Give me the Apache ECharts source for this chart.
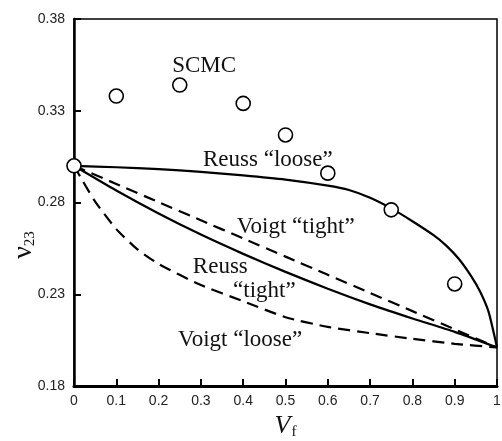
<!DOCTYPE html>
<html>
<head>
<meta charset="utf-8">
<script src="https://cdn.jsdelivr.net/npm/echarts@6/dist/echarts.min.js"></script>
<style>
  html, body { margin: 0; padding: 0; background: #fff; }
  #main { width: 502px; height: 441px; }
</style>
</head>
<body>
<div id="main"></div>
<script>
// 纤维体积分数 Vf 与泊松比 ν23
const vf = [0, 0.1, 0.2, 0.3, 0.4, 0.5, 0.6, 0.7, 0.8, 0.9, 1];
const reussLoose = [
  [0, 0.300], [0.1, 0.2992], [0.2, 0.2982], [0.3, 0.2967], [0.4, 0.2948],
  [0.5, 0.2925], [0.6, 0.2892], [0.65, 0.2868], [0.7, 0.2826], [0.75, 0.2768],
  [0.8, 0.2698], [0.85, 0.2622], [0.88, 0.2565], [0.91, 0.2492], [0.94, 0.2395],
  [0.96, 0.2315], [0.98, 0.2205], [1, 0.201]
];
const voigtTight = [0.300, 0.2901, 0.2802, 0.2703, 0.2604, 0.2505, 0.2406, 0.2307, 0.2208, 0.2109, 0.201];
const reussTight = [0.300, 0.2865, 0.274, 0.2625, 0.252, 0.2422, 0.233, 0.2245, 0.2168, 0.2095, 0.201];
const voigtLoose = [
  [0, 0.300], [0.02, 0.292], [0.05, 0.2805], [0.1, 0.2655], [0.15, 0.2545],
  [0.2, 0.2465], [0.3, 0.235], [0.4, 0.2262], [0.5, 0.2175], [0.6, 0.2122],
  [0.7, 0.2088], [0.8, 0.2057], [0.9, 0.203], [1, 0.201]
];
const scmcX = [0, 0.1, 0.25, 0.4, 0.5, 0.6, 0.75, 0.9];
const scmcY = [0.300, 0.338, 0.344, 0.334, 0.3168, 0.296, 0.276, 0.2356];

// 曲线标注 [文字, Vf, ν]
const labels = [
  ['SCMC', 0.232, 0.3506],
  ['Reuss \u201cloose\u201d', 0.305, 0.2999],
  ['Voigt \u201ctight\u201d', 0.385, 0.2634],
  ['Reuss', 0.281, 0.2416],
  ['\u201ctight\u201d', 0.376, 0.228],
  ['Voigt \u201cloose\u201d', 0.246, 0.2013]
];

const pair = (xs, ys) => xs.map((x, i) => [x, ys[i]]);

let chart = echarts.init(document.getElementById('main'));

const lineStyle = (type) => ({ color: '#000', width: 2.2, type: type });

let option = {
  animation: false,
  grid: {
    left: 74, right: 5, top: 19, bottom: 55,
    containLabel: false,
    outerBoundsMode: 'none',
    show: true,
    borderColor: '#000',
    borderWidth: 1.5
  },
  xAxis: {
    type: 'value',
    min: 0, max: 1, interval: 0.1,
    name: '{v|V}{s|f}',
    nameLocation: 'middle',
    nameGap: 26,
    nameTextStyle: {
      rich: {
        v: { fontFamily: 'Liberation Serif', fontStyle: 'italic', fontSize: 26, color: '#111' },
        s: { fontFamily: 'Liberation Serif', fontSize: 15, color: '#111', padding: [12, 0, 0, 1] }
      }
    },
    axisLine: { lineStyle: { color: '#000', width: 3 } },
    axisTick: { inside: true, length: 7, lineStyle: { color: '#000', width: 2 } },
    axisLabel: {
      margin: 8,
      fontFamily: 'Liberation Sans', fontSize: 14, color: '#222',
      formatter: (v) => String(+v.toFixed(1))
    },
    splitLine: { show: false }
  },
  yAxis: {
    type: 'value',
    min: 0.18, max: 0.38, interval: 0.05,
    axisLine: { lineStyle: { color: '#000', width: 2.5 } },
    axisTick: { inside: true, length: 7, lineStyle: { color: '#000', width: 2 } },
    axisLabel: {
      margin: 9,
      fontFamily: 'Liberation Sans', fontSize: 14, color: '#222',
      formatter: (v) => v.toFixed(2)
    },
    splitLine: { show: false }
  },
  series: [
    {
      name: 'Reuss loose', type: 'line', data: reussLoose, smooth: 0.2,
      showSymbol: false, lineStyle: lineStyle('solid'), z: 2
    },
    {
      name: 'Voigt tight', type: 'line', data: pair(vf, voigtTight), smooth: 0.2,
      showSymbol: false, lineStyle: lineStyle([12, 7]), z: 2
    },
    {
      name: 'Reuss tight', type: 'line', data: pair(vf, reussTight), smooth: 0.2,
      showSymbol: false, lineStyle: lineStyle('solid'), z: 2
    },
    {
      name: 'Voigt loose', type: 'line', data: voigtLoose, smooth: 0.2,
      showSymbol: false, lineStyle: lineStyle([12, 7]), z: 2
    },
    {
      name: 'SCMC', type: 'scatter', data: pair(scmcX, scmcY),
      symbol: 'circle', symbolSize: 14,
      itemStyle: { color: '#fff', borderColor: '#000', borderWidth: 1.6, opacity: 1 },
      z: 5
    }
  ]
};

option && chart.setOption(option);

// 标注文字按数据坐标放置
const textItems = labels.map(([t, x, y]) => {
  const p = chart.convertToPixel({ gridIndex: 0 }, [x, y]);
  return {
    type: 'text', x: p[0], y: p[1] + 5, z: 10,
    style: {
      text: t, fill: '#111',
      font: '23px "Liberation Serif"',
      verticalAlign: 'bottom', align: 'left'
    }
  };
});

// y 轴名称 ν23（竖排）
textItems.push({
  type: 'text', x: 24, y: 245, rotation: Math.PI / 2, z: 10,
  style: {
    text: '{v|\u03bd}{s|23}',
    align: 'center', verticalAlign: 'middle',
    rich: {
      v: { fontFamily: 'Liberation Serif', fontSize: 28, fill: '#111' },
      s: { fontFamily: 'Liberation Serif', fontSize: 15, fill: '#111', padding: [12, 0, 0, 0] }
    }
  }
});

chart.setOption({ graphic: textItems });
</script>
</body>
</html>
